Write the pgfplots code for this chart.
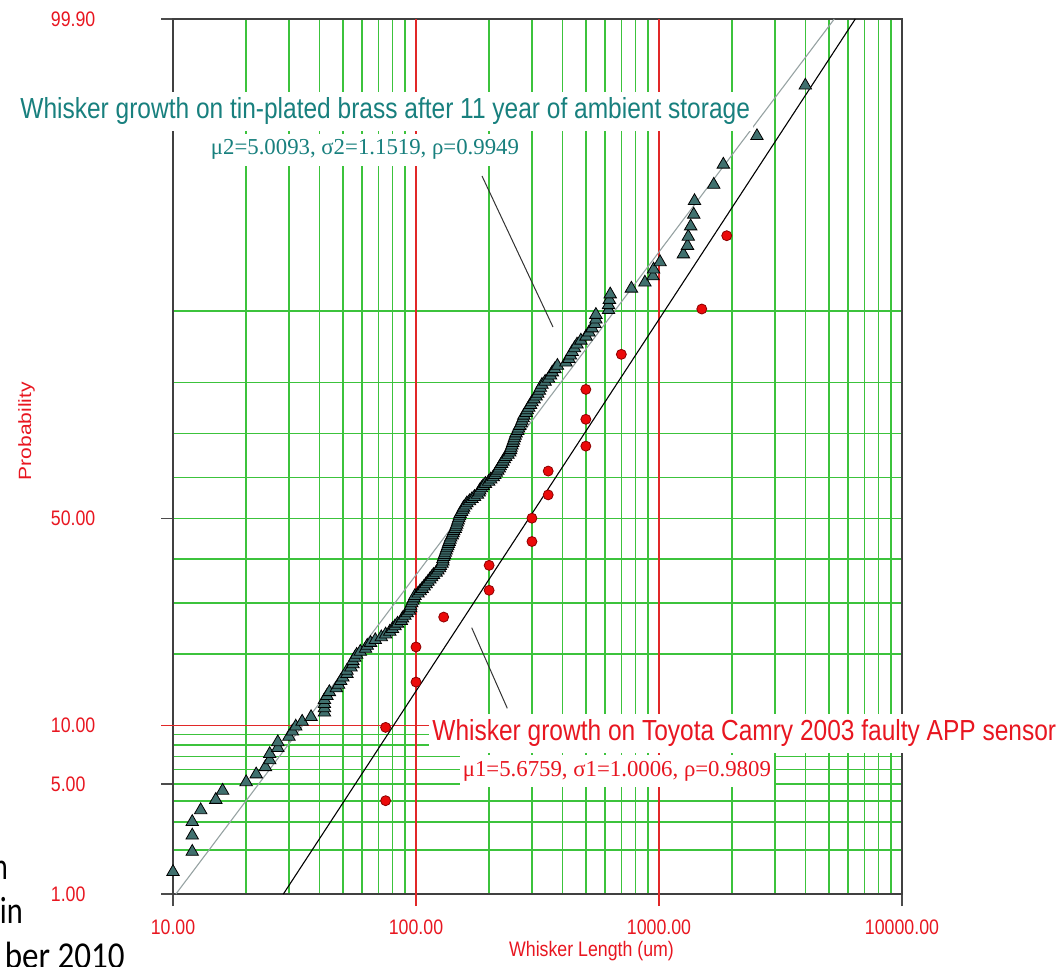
\documentclass[border=0pt]{standalone}
\usepackage{pgfplots}
\pgfplotsset{compat=1.18}
\usepackage{pgfplotstable}
\usepackage{graphicx}
\usepackage{fontspec}
\setmainfont{Liberation Sans}
\newfontfamily\serifface{Liberation Serif}
\newfontfamily\slideface{Carlito}
\definecolor{gridgreen}{RGB}{60,195,60}
\definecolor{gridred}{RGB}{225,40,40}
\definecolor{lblred}{RGB}{232,22,32}
\definecolor{tealtxt}{RGB}{24,128,126}
\definecolor{trifill}{RGB}{64,112,110}
\definecolor{fitgray}{RGB}{150,162,162}
\definecolor{ptred}{RGB}{235,10,10}
\newcommand{\lab}[1]{\scalebox{0.845}[1]{#1}}

% Whisker lengths (um) and median-rank probabilities (%)
\pgfplotstableread{
x p
10 1.43
12 1.95
12 2.48
12 3.01
13 3.54
15 4.07
16 4.59
20 5.12
22 5.65
24 6.18
25 6.71
25 7.23
27 7.76
27 8.29
30 8.82
31 9.35
32 9.87
34 10.40
37 10.93
42 11.46
42 11.99
42 12.51
42 13.04
43 13.57
44 14.10
47 14.63
48 15.15
49 15.68
50 16.21
52 16.74
52 17.26
54 17.79
55 18.32
55 18.85
56 19.38
57 19.90
59 20.43
62 20.96
63 21.49
65 22.02
68 22.54
72 23.07
75 23.60
78 24.13
80 24.66
82 25.18
84 25.71
87 26.24
88 26.77
90 27.30
92 27.82
94 28.35
95 28.88
95 29.41
96 29.94
97 30.46
98 30.99
99 31.52
102 32.05
104 32.58
106 33.10
108 33.63
110 34.16
112 34.69
114 35.22
116 35.74
118 36.27
121 36.80
123 37.33
125 37.86
126 38.38
128 38.91
129 39.44
129 39.97
130 40.50
131 41.02
132 41.55
133 42.08
134 42.61
135 43.14
136 43.66
137 44.19
138 44.72
139 45.25
141 45.78
142 46.30
143 46.83
145 47.36
146 47.89
147 48.42
148 48.94
149 49.47
150 50.00
151 50.53
152 51.06
154 51.58
156 52.11
157 52.64
160 53.17
162 53.70
166 54.22
170 54.75
174 55.28
179 55.81
182 56.34
183 56.86
186 57.39
189 57.92
193 58.45
199 58.98
203 59.50
208 60.03
211 60.56
214 61.09
217 61.62
220 62.14
222 62.67
225 63.20
228 63.73
231 64.26
234 64.78
239 65.31
243 65.84
245 66.37
246 66.90
248 67.42
250 67.95
252 68.48
254 69.01
256 69.54
258 70.06
262 70.59
264 71.12
267 71.65
271 72.18
273 72.70
276 73.23
278 73.76
284 74.29
287 74.82
291 75.34
296 75.87
300 76.40
306 76.93
312 77.46
317 77.98
322 78.51
325 79.04
330 79.57
340 80.10
351 80.62
358 81.15
364 81.68
373 82.21
382 82.74
414 83.26
426 83.79
432 84.32
439 84.85
449 85.37
460 85.90
477 86.43
501 86.96
515 87.49
530 88.01
545 88.54
550 89.07
550 89.60
620 90.13
620 90.65
625 91.18
630 91.71
770 92.24
875 92.77
945 93.29
950 93.82
1010 94.35
1260 94.88
1310 95.41
1320 95.93
1350 96.46
1390 96.99
1400 97.52
1680 98.05
1840 98.57
2530 99.10
4000 99.63
}\brass

\pgfplotstableread{
x p
75 4.02
75 9.77
100 15.52
100 21.26
130 27.01
200 32.76
200 38.51
300 44.25
300 50.00
350 55.75
350 61.49
500 67.24
500 72.99
500 78.74
700 84.48
1500 90.23
1900 95.98
}\camry

% fitted lognormal lines (end points at 1% and 99.9%)
\pgfplotstableread{
x p
10.274 1
5265 99.9
}\fitbrass
\pgfplotstableread{
x p
28.45 1
6425 99.9
}\fitcamry

\begin{document}
\begin{tikzpicture}[declare function={
  qn(\myt)=\myt-(2.515517+0.802853*\myt+0.010328*\myt*\myt)/(1+1.432788*\myt+0.189269*\myt*\myt+0.001308*\myt*\myt*\myt);
  invn(\myp)=(\myp<0.5)?(-qn(sqrt(-2*ln(\myp)))):(qn(sqrt(-2*ln(1-\myp))));
}]
\useasboundingbox (-86.5pt,-36pt) rectangle (444pt,447pt);
\begin{axis}[
  at={(0pt,0pt)}, anchor=south west,
  scale only axis, width=364.5pt, height=437.5pt,
  xmode=log, xmin=10, xmax=10000,
  ymin=-2.32635, ymax=3.09023,
  xtick={10,10000}, xticklabels={\lab{10.00},\lab{10000.00}},
  extra x ticks={100,1000}, extra x tick labels={\lab{100.00},\lab{1000.00}},
  extra x tick style={grid=major, major grid style={draw=gridred, line width=0.55pt}, major tick style={draw=gridred, line width=0.55pt}},
  minor xtick={20,30,40,50,60,70,80,90,200,300,400,500,600,700,800,900,2000,3000,4000,5000,6000,7000,8000,9000},
  ytick={-2.32635,-1.64485,0,3.09023}, yticklabels={\lab{1.00},\lab{5.00},\lab{50.00},\lab{99.90}},
  extra y ticks={-1.28155}, extra y tick labels={\lab{10.00}},
  extra y tick style={grid=major, major grid style={draw=gridred, line width=0.55pt}, major tick style={draw=gridred, line width=0.55pt}},
  minor ytick={-2.05375,-1.88079,-1.75069,-1.55477,-1.47579,-1.40507,-1.34076,-0.84162,-0.52440,-0.25335,0.25335,0.52440,0.84162,1.28155},
  grid=both,
  major grid style={draw=gridgreen, line width=0.7pt},
  minor grid style={draw=gridgreen, line width=0.7pt},
  tick align=outside, major tick length=6pt, minor tick length=0pt,
  xtick pos=left, ytick pos=left,
  major tick style={draw=black!70, line width=0.6pt},
  axis line style={draw=black!75, line width=0.7pt},
  xticklabel style={font=\fontsize{10.5}{12}\selectfont, text=lblred, anchor=base, inner sep=0pt, yshift=-14pt},
  yticklabel style={font=\fontsize{10.5}{12}\selectfont, text=lblred, anchor=west, inner sep=0pt, xshift=-55.25pt},
  xlabel={\lab{Whisker Length (um)}},
  xlabel style={at={(rel axis cs:0.5741,-0.0651)}, anchor=center, font=\fontsize{10.5}{12}\selectfont, text=lblred},
  ylabel={\scalebox{1}[0.845]{Probability}},
  ylabel style={at={(rel axis cs:-0.2010,0.5291)}, anchor=center, font=\fontsize{10.5}{12}\selectfont, text=lblred},
]
\addplot[draw=fitgray, line width=0.55pt] table[x=x, y expr={invn(\thisrow{p}/100)}] {\fitbrass};
\addplot[draw=black, line width=0.55pt] table[x=x, y expr={invn(\thisrow{p}/100)}] {\fitcamry};
\addplot[only marks, mark=triangle*, mark size=3.6pt, mark options={fill=trifill, draw=black, line width=0.4pt}]
  table[x=x, y expr={invn(\thisrow{p}/100)}] {\brass};
\addplot[only marks, mark=*, mark size=2.5pt, mark options={fill=ptred, draw=red!55!black, line width=0.4pt}]
  table[x=x, y expr={invn(\thisrow{p}/100)}] {\camry};
\end{axis}
% pointer lines
\draw[black!80, line width=0.5pt] (154.5pt,359pt) -- (190pt,283.5pt);
\draw[black!80, line width=0.5pt] (149.35pt,133.15pt) -- (167.15pt,92.85pt);
% annotations
\node[anchor=base west, fill=white, inner xsep=1.5pt, inner ysep=3pt, text=tealtxt, font=\fontsize{14.5}{17}\selectfont]
  at (-78pt,387.5pt) {\lab{Whisker growth on tin-plated brass after 11 year of ambient storage}};
\node[anchor=base west, fill=white, inner xsep=1.5pt, inner ysep=3pt, text=tealtxt, font=\serifface\fontsize{11.4}{13}\selectfont]
  at (17.25pt,369.5pt) {μ2=5.0093, σ2=1.1519, ρ=0.9949};
\node[anchor=base west, fill=white, inner xsep=1.5pt, inner ysep=3pt, text=lblred, font=\fontsize{14.5}{17}\selectfont]
  at (128pt,76.65pt) {\lab{Whisker growth on Toyota Camry 2003 faulty APP sensor}};
\node[anchor=base west, fill=white, inner xsep=1.5pt, inner ysep=3pt, text=lblred, font=\serifface\fontsize{11.4}{13}\selectfont]
  at (143.2pt,59pt) {μ1=5.6759, σ1=1.0006, ρ=0.9809};
% slide text fragments at the left edge
\node[anchor=base east, inner sep=0pt, font=\slideface\fontsize{19}{22}\selectfont] at (-82.35pt,7.5pt) {\scalebox{0.75}[1]{n}};
\node[anchor=base east, inner sep=0pt, font=\slideface\fontsize{19}{22}\selectfont] at (-74.85pt,-14.65pt) {\scalebox{0.8}[1]{in}};
\node[anchor=base east, inner sep=0pt, font=\slideface\fontsize{19}{22}\selectfont] at (-24pt,-37.2pt) {\scalebox{0.87}[1]{ber 2010}};
\end{tikzpicture}
\end{document}
